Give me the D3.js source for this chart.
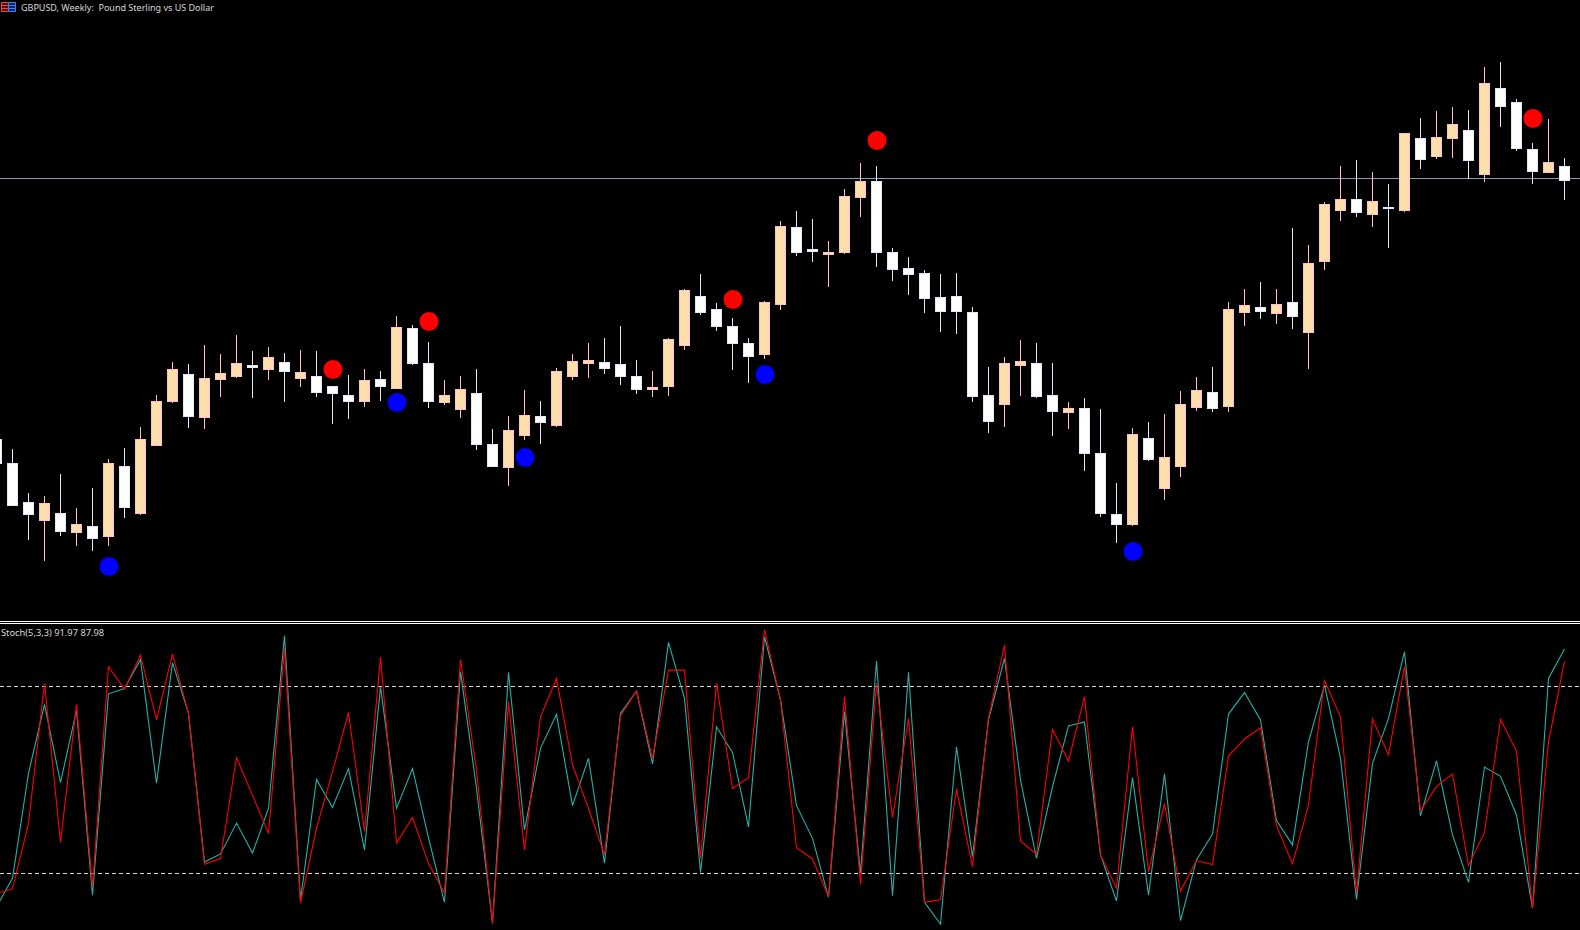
<!DOCTYPE html>
<html>
<head>
<meta charset="utf-8">
<title>GBPUSD, Weekly</title>
<script src="https://cdnjs.cloudflare.com/ajax/libs/d3/7.8.5/d3.min.js"></script>
<style>
  html, body { margin: 0; padding: 0; background: #000; overflow: hidden; }
  svg { display: block; }
  .label { font-family: "Noto Sans", sans-serif; fill: #d8d8d8; }
</style>
</head>
<body>
<div id="chart"></div>
<script>
// Price data. There is no price axis so these are points above the pane floor
var opens = [181,157,118,99,107,87,94,83,154,106,174,218,246,202,240,243,255,250,258,241,
  244,234,225,218,241,231,292,257,217,210,227,176,152,184,204,194,243,256,258,256,
  244,230,233,274,324,311,294,277,265,315,393,371,365,367,422,439,368,352,347,323,
  324,308,225,215,254,257,225,207,212,167,106,95,182,131,153,212,228,213,307,313,
  306,318,287,358,409,421,405,413,409,482,463,481,490,445,532,518,471,447,454];
var highs = [181,171,127,124,146,112,132,161,172,193,225,258,256,275,266,285,269,273,267,270,
  269,234,245,251,249,304,295,278,240,244,251,191,204,230,219,252,266,277,282,294,
  260,249,282,331,346,317,302,282,319,399,409,401,379,431,457,454,372,363,350,346,
  347,313,253,263,280,277,257,218,222,211,137,192,198,206,229,243,253,318,331,338,
  331,392,375,418,454,460,448,436,487,502,509,513,510,553,558,521,477,501,462];
var lows = [156,114,80,59,84,74,69,74,102,105,174,217,192,191,223,242,222,240,218,233,
  223,196,201,213,219,231,255,212,215,202,170,153,134,180,176,193,240,242,246,235,
  226,223,224,270,305,289,250,237,261,310,364,358,333,366,403,353,339,325,307,288,
  286,218,187,193,224,222,184,191,149,103,77,94,159,120,143,209,208,208,294,301,
  296,291,251,350,399,403,393,372,408,451,461,462,441,438,493,469,436,447,420];
var closes = [156,114,105,117,88,96,81,157,112,181,219,251,203,242,247,257,252,263,248,248,
  227,226,218,240,233,293,256,218,225,231,175,153,190,205,197,249,259,260,251,243,
  230,233,281,330,307,293,276,263,318,394,367,368,368,424,439,367,350,345,321,308,
  308,223,198,257,259,223,208,212,166,106,95,186,160,163,216,230,211,311,315,308,
  316,303,357,416,421,407,419,411,487,460,483,496,459,537,513,471,448,458,439];

// Stochastic(5,3,3)
var stochMain = [9.2,18.4,52.1,74.2,49.1,72.4,13.0,77.6,79.3,88.6,48.9,87.6,71.3,23.6,26.2,36.1,26.5,40.8,96.2,11.4,
  50.1,41.1,53.6,27.5,79.9,40.8,53.6,31.4,10.7,84.7,47.3,3.9,84.5,33.9,60.1,71.0,41.7,56.9,23.2,71.3,
  78.5,55.1,94.1,76.1,20.3,67.0,58.8,34.9,95.9,75.6,41.7,31.2,12.3,71.9,20.0,88.1,12.8,84.5,10.7,3.7,
  60.6,25.3,69.2,89.0,49.9,24.8,47.8,67.3,68.6,25.9,11.1,50.7,13.0,51.9,4.8,24.3,32.6,71.1,78.0,69.2,
  36.9,29.1,62.2,80.4,56.9,11.6,55.3,69.7,91.1,38.4,56.1,32.3,17.1,54.1,51.1,38.7,8.8,82.5,91.97];
var stochSignal = [13.5,15.0,36.0,81.0,29.9,74.2,15.7,86.3,79.1,90.0,69.2,90.3,71.3,22.9,24.7,57.1,45.0,32.8,92.2,10.4,
  34.4,52.6,71.6,33.4,89.3,29.7,37.9,23.2,13.6,88.6,53.1,3.9,75.1,27.5,70.2,82.5,54.8,40.8,25.9,70.6,
  78.5,56.9,85.2,85.2,24.8,81.0,47.2,50.7,98.1,75.6,28.2,24.6,12.5,76.7,16.5,81.0,37.9,69.7,10.7,11.5,
  47.1,22.1,69.7,93.2,30.4,26.1,66.2,56.0,76.7,25.9,15.2,67.0,20.5,42.4,14.3,24.0,22.8,57.6,63.1,66.7,
  35.3,23.0,41.9,81.8,70.2,13.6,69.5,58.0,86.3,40.0,47.9,51.9,22.5,33.1,69.4,59.2,8.8,62.2,87.98];
var stochLevels = [80, 20];

// Signal dots [bar index, price]
var buySignals = [[7,54],[25,218],[33,163],[48,246],[71,69]];
var sellSignals = [[21,251],[27,299],[46,321],[55,480],[96,502]];

var horizontalLevel = 442;
var titleText = "GBPUSD, Weekly:  Pound Sterling vs US Dollar";
var stochText = "Stoch(5,3,3) 91.97 87.98";

var WIDTH = 1580, HEIGHT = 930;
var bodyW = 10;

var x = d3.scaleLinear().domain([0, opens.length - 1]).range([-3.5, 1564.5]);
var priceY = d3.scaleLinear().domain([0, 620]).range([620, 0]);
var stochY = d3.scaleLinear().domain([0, 100]).range([935.6, 624]);

var svg = d3.select("#chart").append("svg")
    .attr("width", WIDTH)
    .attr("height", HEIGHT)
    .style("background", "#000");

var clip = svg.append("defs").append("clipPath").attr("id", "stochClip");
clip.append("rect").attr("x", 0).attr("y", 624).attr("width", WIDTH).attr("height", HEIGHT - 624);

// Price pane
var pricePane = svg.append("g");

pricePane.append("line")
    .attr("x1", 0).attr("x2", WIDTH)
    .attr("y1", priceY(horizontalLevel) + 0.5).attr("y2", priceY(horizontalLevel) + 0.5)
    .attr("stroke", "#8c9bb0");

var bars = d3.range(opens.length);
function isUp(i) { return closes[i] > opens[i]; }

pricePane.selectAll(".wick")
  .data(bars)
  .enter().append("line")
    .attr("class", "wick")
    .attr("x1", function(i) { return x(i); })
    .attr("x2", function(i) { return x(i); })
    .attr("y1", function(i) { return priceY(highs[i]); })
    .attr("y2", function(i) { return priceY(lows[i]); })
    .attr("stroke", function(i) { return isUp(i) ? "#ffc0cb" : "#e6e6fa"; });

pricePane.selectAll(".body")
  .data(bars)
  .enter().append("rect")
    .attr("class", "body")
    .attr("x", function(i) { return x(i) - bodyW / 2; })
    .attr("y", function(i) { return priceY(Math.max(opens[i], closes[i])) + 0.5; })
    .attr("width", bodyW)
    .attr("height", function(i) { return Math.abs(opens[i] - closes[i]) - 1; })
    .attr("fill", function(i) { return isUp(i) ? "#ffdead" : "#ffffff"; })
    .attr("stroke", function(i) { return isUp(i) ? "#ffc0cb" : "#e6e6fa"; });

pricePane.selectAll(".buy")
  .data(buySignals)
  .enter().append("circle")
    .attr("class", "buy")
    .attr("cx", function(d) { return x(d[0]) + 0.5; })
    .attr("cy", function(d) { return priceY(d[1]) + 0.5; })
    .attr("r", 9.5)
    .attr("fill", "#0000ff");

pricePane.selectAll(".sell")
  .data(sellSignals)
  .enter().append("circle")
    .attr("class", "sell")
    .attr("cx", function(d) { return x(d[0]) + 0.5; })
    .attr("cy", function(d) { return priceY(d[1]) + 0.5; })
    .attr("r", 9.5)
    .attr("fill", "#ff0000");

// Small chart icon up in the corner
var icon = svg.append("g");
icon.append("rect").attr("x", 1.5).attr("y", 2.5).attr("width", 7).attr("height", 9).attr("fill", "#5a1010").attr("stroke", "#e8453c");
icon.append("rect").attr("x", 8.5).attr("y", 2.5).attr("width", 7).attr("height", 9).attr("fill", "#10245a").attr("stroke", "#3a80f0");
[5.5, 8.5].forEach(function(yy) {
  icon.append("line").attr("x1", 2).attr("x2", 8).attr("y1", yy).attr("y2", yy).attr("stroke", "#e8453c");
  icon.append("line").attr("x1", 9).attr("x2", 15).attr("y1", yy).attr("y2", yy).attr("stroke", "#3a80f0");
});

svg.append("text")
    .attr("class", "label")
    .attr("x", 21).attr("y", 11)
    .attr("font-size", 9)
    .style("white-space", "pre")
    .text(titleText);

// Pane separator
[621.5, 623.5].forEach(function(yy) {
  svg.append("line").attr("x1", 0).attr("x2", WIDTH).attr("y1", yy).attr("y2", yy).attr("stroke", "#ffffff");
});

// Stochastic pane
var stochPane = svg.append("g");

stochPane.selectAll(".level")
  .data(stochLevels)
  .enter().append("line")
    .attr("class", "level")
    .attr("x1", 0).attr("x2", WIDTH)
    .attr("y1", function(d) { return Math.round(stochY(d)) + 0.5; })
    .attr("y2", function(d) { return Math.round(stochY(d)) + 0.5; })
    .attr("stroke", "#d8d8d8")
    .attr("stroke-dasharray", "4,3");

var stochLine = d3.line()
    .x(function(d, i) { return x(i); })
    .y(function(d) { return stochY(d); });

stochPane.append("path")
    .datum(stochMain)
    .attr("clip-path", "url(#stochClip)")
    .attr("d", stochLine)
    .attr("fill", "none")
    .attr("stroke", "#20b2aa")
    .attr("stroke-width", 1.1);

stochPane.append("path")
    .datum(stochSignal)
    .attr("clip-path", "url(#stochClip)")
    .attr("d", stochLine)
    .attr("fill", "none")
    .attr("stroke", "#ff0000")
    .attr("stroke-width", 1.1);

svg.append("text")
    .attr("class", "label")
    .attr("x", 1).attr("y", 636)
    .attr("font-size", 9.3)
    .text(stochText);
</script>
</body>
</html>
